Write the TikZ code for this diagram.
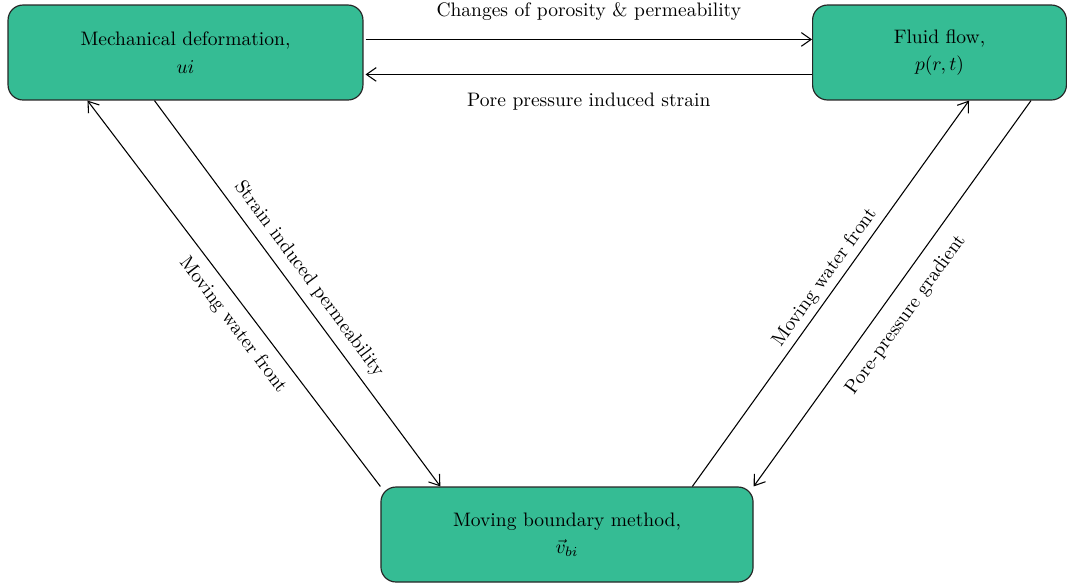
\documentclass[tikz,border=0pt]{standalone}
\usepackage{amsmath}
\usepackage{tikz}
\usetikzlibrary{arrows.meta}
\usetikzlibrary{calc}
\definecolor{boxgreen}{RGB}{53,188,148}

\begin{document}
\begin{tikzpicture}[x=0.018cm, y=-0.018cm, >={Straight Barb[length=5pt,width=7pt]}]
                \useasboundingbox (0,0) rectangle (1067,586);
                \tikzset{
                    blockbox/.style={draw=black!85, line width=0.6pt, fill=boxgreen, rounded corners=0.27cm,
                                     align=center, minimum height=1.71cm, inner sep=0pt},
                    flowline/.style={->, line width=0.55pt},
                }
                
                % 三个模块
                \node[blockbox, minimum width=6.39cm] (mech) at (185.5,52.5) {Mechanical deformation,\\[2pt] $ui$};
                \node[blockbox, minimum width=4.57cm] (fluid) at (939.5,52.5) {Fluid flow,\\[2pt] $p(r,t)$};
                \node[blockbox, minimum width=6.70cm] (bnd) at (567,534.5) {Moving boundary method,\\[2pt] $\vec{v}_{bi}$};
                
                % 上方: 力学 <-> 渗流
                \draw[flowline] ($(mech.north east)+(2,35)$) -- ($(fluid.north west)+(0,35)$)
                    node[midway, above=6pt] {Changes of porosity \& permeability};
                \draw[flowline] ($(fluid.north west)+(0,70)$) -- ($(mech.north east)+(2,70)$)
                    node[midway, below=6pt] {Pore pressure induced strain};
                
                % 左侧: 力学 <-> 移动边界
                \draw[flowline] (bnd.north west) -- ($(mech.south west)+(80,0)$)
                    node[pos=0.45, sloped, below=2pt] {Moving water front};
                \draw[flowline] ($(mech.south west)+(147,0)$) -- ($(bnd.north west)+(60,0)$)
                    node[pos=0.49, sloped, above=1pt] {Strain induced permeability};
                
                % 右侧: 渗流 <-> 移动边界
                \draw[flowline] ($(bnd.north west)+(312,0)$) -- ($(fluid.south west)+(157,0)$)
                    node[pos=0.52, sloped, above=-1pt] {Moving water front};
                \draw[flowline] ($(fluid.south west)+(219,0)$) -- (bnd.north east)
                    node[pos=0.52, sloped, below=4pt] {Pore-pressure gradient};
            \end{tikzpicture}
\end{document}
